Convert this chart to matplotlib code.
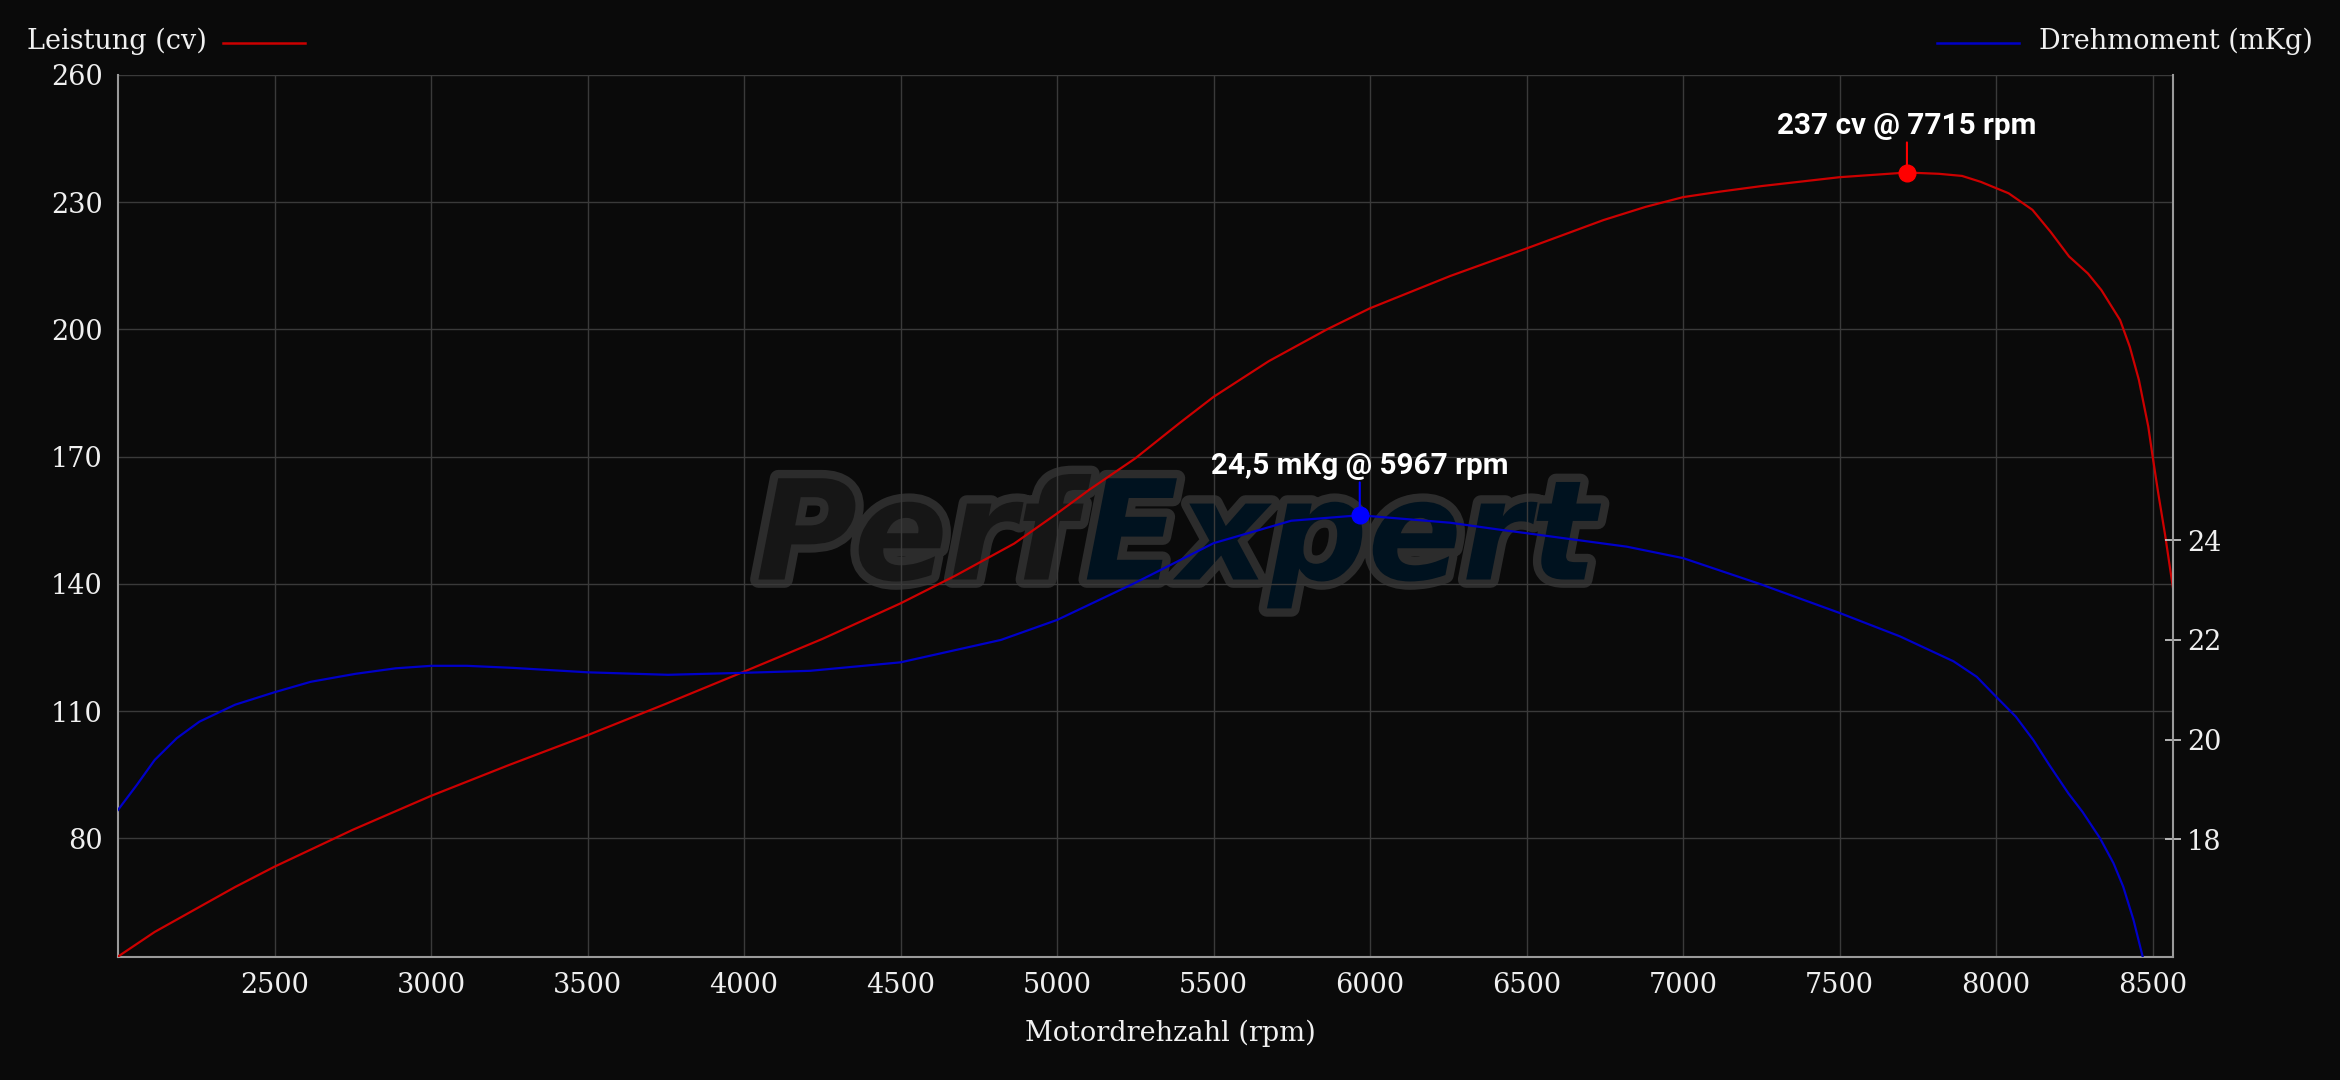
import matplotlib
matplotlib.use("Agg")
import matplotlib.pyplot as plt
from matplotlib.lines import Line2D
import matplotlib.patheffects as pe

# ---------------- data ----------------
power_rpm = [2000, 2117, 2260, 2374, 2500, 2750, 3000, 3250, 3500, 3750, 4000, 4250,
             4500, 4677, 4863, 5000, 5105, 5250, 5391, 5500, 5676, 5862, 6000, 6256,
             6500, 6746, 6880, 7000, 7118, 7250, 7500, 7715, 7817, 7891, 7951, 8040,
             8116, 8174, 8233, 8293, 8336, 8396, 8427, 8456, 8486, 8500, 8518, 8539, 8565]
power_cv = [52.1, 57.9, 63.8, 68.5, 73.3, 82.0, 90.0, 97.3, 104.3, 111.7, 119.3, 127.0,
            135.4, 142.0, 149.5, 156.6, 162.3, 169.6, 177.9, 184.1, 192.5, 200.0, 205.0, 212.6,
            219.1, 225.8, 228.9, 231.2, 232.5, 233.8, 235.9, 237.0, 236.7, 236.2, 234.8, 232.1,
            228.2, 223.0, 217.2, 213.2, 209.3, 202.2, 195.9, 188.1, 177.1, 170.0, 161.3, 151.9, 139.0]

torque_rpm = [2000, 2060, 2117, 2188, 2260, 2374, 2500, 2616, 2759, 2887, 3000, 3115,
              3258, 3500, 3757, 4000, 4211, 4500, 4821, 5000, 5248, 5500, 5748, 5967,
              6256, 6415, 6500, 6820, 7000, 7246, 7500, 7693, 7864, 7938, 8000, 8063,
              8119, 8170, 8231, 8276, 8332, 8375, 8406, 8439, 8468]
torque_mkg = [18.59, 19.09, 19.59, 20.03, 20.36, 20.70, 20.95, 21.16, 21.32, 21.43, 21.48, 21.48,
              21.44, 21.35, 21.30, 21.34, 21.38, 21.55, 22.00, 22.40, 23.14, 23.94, 24.39, 24.50,
              24.35, 24.21, 24.14, 23.87, 23.64, 23.12, 22.54, 22.07, 21.57, 21.26, 20.86, 20.46,
              19.99, 19.49, 18.92, 18.55, 18.02, 17.52, 17.05, 16.38, 15.65]

power_peak_rpm, power_peak = 7715, 237
torque_peak_rpm, torque_peak = 5967, 24.5

x_ticks = [2500, 3000, 3500, 4000, 4500, 5000, 5500, 6000, 6500, 7000, 7500, 8000, 8500]
left_ticks = [80, 110, 140, 170, 200, 230, 260]
right_ticks = [18, 20, 22, 24]

power_label = "Leistung (cv)"
torque_label = "Drehmoment (mKg)"
x_label = "Motordrehzahl (rpm)"
watermark_a, watermark_b = "Perf", "Expert"

# ---------------- style ----------------
BG = "#0a0a0a"
RED = "#cc0000"
RED_DOT = "#ff0000"
BLUE = "#0000c8"
BLUE_DOT = "#0000ff"
GRID = "#3a3a3a"
SPINE = "#9a9a9a"
TXT = "#f0f0f0"
SERIF = ["DejaVu Serif"]
W, H = 2340, 1080

fig = plt.figure(figsize=(W / 100, H / 100), dpi=100, facecolor=BG)
L, R, T, B = 118, 2173, 75, 957
ax = fig.add_axes([L / W, 1 - B / H, (R - L) / W, (B - T) / H])
ax.set_facecolor(BG)
ax2 = ax.twinx()

# power
ax.plot(power_rpm, power_cv, color=RED, lw=1.6, zorder=3, solid_joinstyle="round")
ax.set_xlim(2000, 8565)
ax.set_ylim(52, 260)
ax.set_xticks(x_ticks)
ax.set_yticks(left_ticks)
ax.grid(True, color=GRID, lw=1.0)
ax.tick_params(axis="both", length=0, labelcolor=TXT, labelsize=19.5, pad=11)
for lab in ax.get_xticklabels() + ax.get_yticklabels():
    lab.set_fontfamily(SERIF)
for s in ["top", "right"]:
    ax.spines[s].set_visible(False)
for s in ["left", "bottom"]:
    ax.spines[s].set_color(SPINE)
    ax.spines[s].set_linewidth(1.5)

# torque
ax2.plot(torque_rpm, torque_mkg, color=BLUE, lw=1.6, zorder=3, solid_joinstyle="round")
ax2.set_ylim(15.64, 33.33)
ax2.set_yticks(right_ticks)
ax2.tick_params(axis="y", direction="inout", length=12, width=1.2, color="#d0d0d0",
                labelcolor=TXT, labelsize=19.5, pad=4)
for lab in ax2.get_yticklabels():
    lab.set_fontfamily(SERIF)
for s in ["top", "left", "bottom"]:
    ax2.spines[s].set_visible(False)
ax2.spines["right"].set_color(SPINE)
ax2.spines["right"].set_linewidth(1.5)

# watermark
wm_kw = dict(transform=ax.transAxes, va="baseline", fontsize=100, fontfamily="DejaVu Sans",
             fontweight="bold", style="oblique", zorder=1)
ax.text(0.4665, 0.428, watermark_a, ha="right", color="#161616",
        path_effects=[pe.withStroke(linewidth=12, foreground="#2c2c2c")], **wm_kw)
ax.text(0.4700, 0.428, watermark_b, ha="left", color="#00121f",
        path_effects=[pe.withStroke(linewidth=12, foreground="#2c2c2c")], **wm_kw)

# peak annotations
ax.plot([power_peak_rpm], [power_peak], "o", color=RED_DOT, ms=12, zorder=5)
ax.annotate(f"{power_peak} cv @ {power_peak_rpm} rpm", xy=(power_peak_rpm, power_peak),
            xytext=(0, 28), textcoords="offset points", ha="center", va="baseline",
            fontsize=21.4, fontfamily="Roboto", fontweight="bold", color="white", zorder=6,
            arrowprops=dict(arrowstyle="-", color=RED_DOT, lw=1.5, shrinkA=0, shrinkB=0))
ax2.plot([torque_peak_rpm], [torque_peak], "o", color=BLUE_DOT, ms=12, zorder=5)
tq_txt = f"{torque_peak:.1f}".replace(".", ",")
ax2.annotate(f"{tq_txt} mKg @ {torque_peak_rpm} rpm", xy=(torque_peak_rpm, torque_peak),
             xytext=(0, 30), textcoords="offset points", ha="center", va="baseline",
             fontsize=21.4, fontfamily="Roboto", fontweight="bold", color="white", zorder=6,
             arrowprops=dict(arrowstyle="-", color=BLUE_DOT, lw=1.5, shrinkA=0, shrinkB=0))

# legends (manual, top corners)
fig.text(26.7 / W, 1 - 41 / H, power_label, ha="left", va="center", fontsize=19.5,
         fontfamily=SERIF, color=TXT)
fig.add_artist(Line2D([222.7 / W, 305 / W], [1 - 42.7 / H] * 2, color=RED, lw=1.8,
                      transform=fig.transFigure))
fig.text(2313 / W, 1 - 41 / H, torque_label, ha="right", va="center", fontsize=19.5,
         fontfamily=SERIF, color=TXT)
fig.add_artist(Line2D([1936.7 / W, 2019 / W], [1 - 42.7 / H] * 2, color=BLUE, lw=1.8,
                      transform=fig.transFigure))

fig.text(0.5, 1 - 1033 / H, x_label, ha="center", va="center", fontsize=19.5,
         fontfamily=SERIF, color=TXT)

fig.savefig("out.png", dpi=100, facecolor=BG)
